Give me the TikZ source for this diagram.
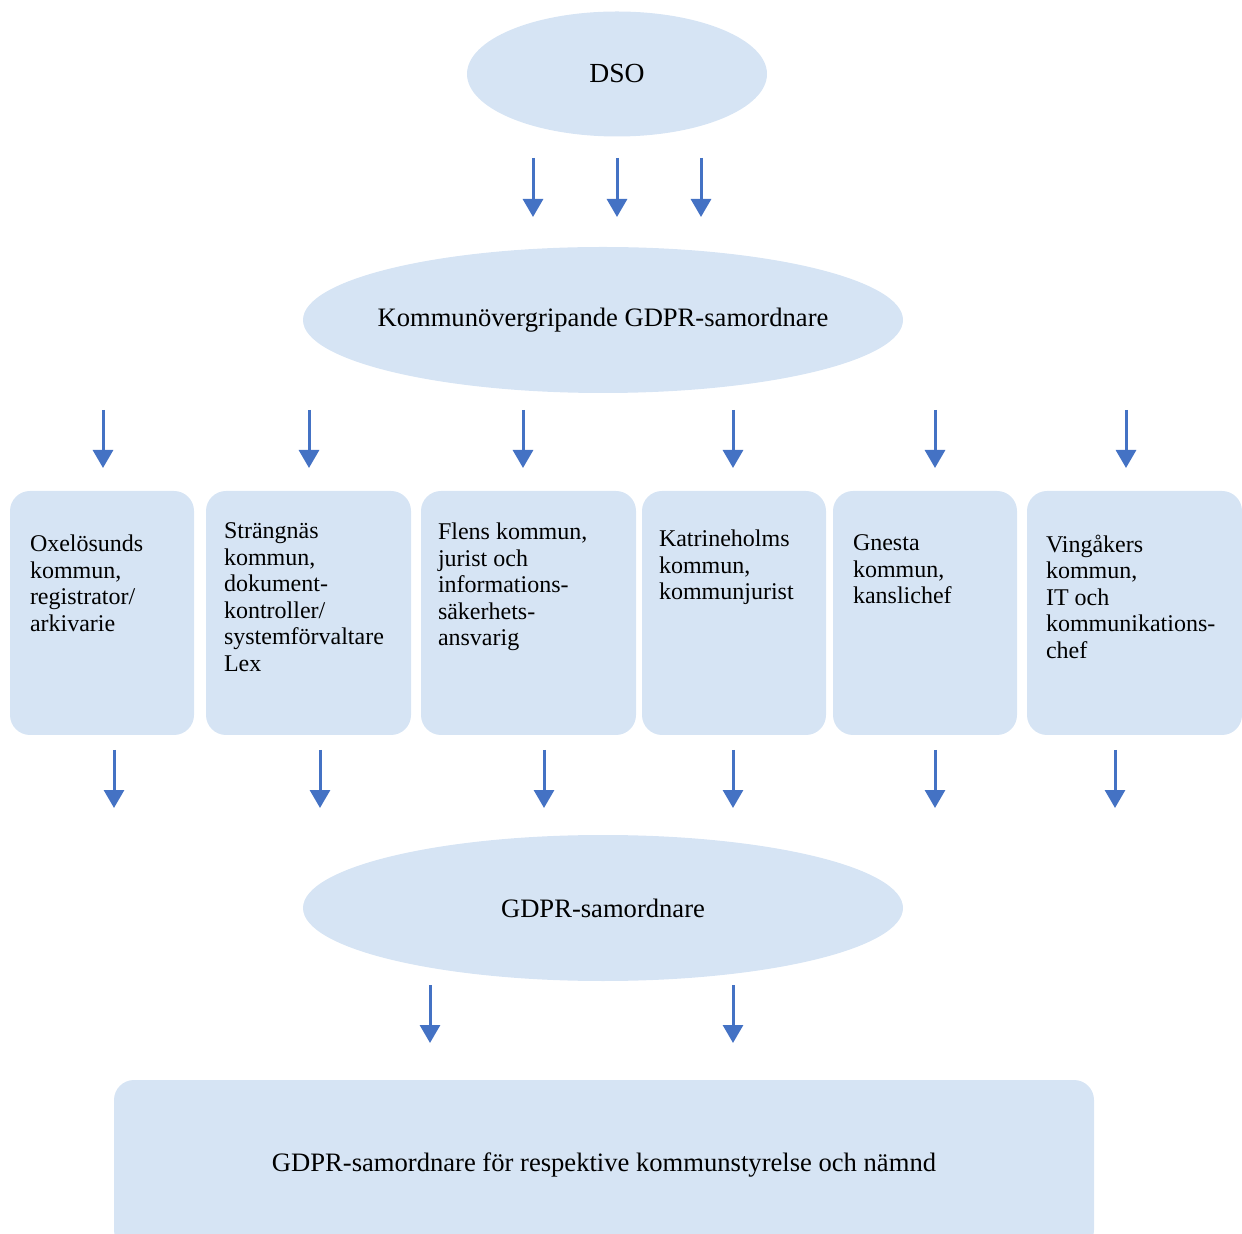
\documentclass[tikz,border=0pt]{standalone}
\usepackage{fontspec}
\setmainfont{Liberation Serif}
\usetikzlibrary{positioning,shapes.geometric,arrows.meta}
\definecolor{boxblue}{RGB}{214,228,244}
\definecolor{arrblue}{RGB}{68,114,196}

\begin{document}
\begin{tikzpicture}
[x=0.5pt,y=-0.5pt,
 every node/.style={inner sep=0pt,outer sep=0pt,font=\fontsize{12}{13.25}\selectfont},
 org/.style={ellipse,fill=boxblue,font=\fontsize{13.3}{15}\selectfont},
 unit/.style={rectangle,rounded corners=10pt,fill=boxblue,minimum height=122pt},
 txt/.style={anchor=north west,align=left},
 arr/.style={draw=arrblue,line width=1.5pt,-{Triangle[width=10pt,length=9pt]}}]
\useasboundingbox (0,0) rectangle (1242,1234);

\node[org,minimum width=150pt,minimum height=62.5pt,font=\fontsize{13.8}{15}\selectfont] (dso) at (617,74) {DSO};
\node[org,minimum width=300pt,minimum height=73pt,inner xsep=-20pt] (kov) at (603,320) {Kommunövergripande GDPR-samordnare};
\node[org,minimum width=300pt,minimum height=73pt]   (sam) [on grid,below=294pt of kov] {GDPR-samordnare};
\node[unit,minimum width=490pt,minimum height=85pt,font=\fontsize{13.3}{15}\selectfont] (resp) [on grid,below=128.5pt of sam,xshift=0.5pt]
  {GDPR-samordnare för respektive kommunstyrelse och nämnd};

% one box per kommun
\node[unit,minimum width=92pt]    (u1) at (102,613)    {};
\node[unit,minimum width=102.5pt] (u2) at (308.5,613)  {};
\node[unit,minimum width=107.5pt] (u3) at (528.5,613)  {};
\node[unit,minimum width=92pt]    (u4) at (734,613)    {};
\node[unit,minimum width=92pt]    (u5) at (925,613)    {};
\node[unit,minimum width=107.5pt] (u6) at (1134.5,613) {};

\node[txt] (t1) at (30,535)   {Oxelösunds\\kommun,\\registrator/\\arkivarie};
\node[txt] (t2) at (224,523)  {Strängnäs\\kommun,\\dokument-\\kontroller/\\systemförvaltare\\Lex};
\node[txt] (t3) at (438,523)  {Flens kommun,\\jurist och\\informations-\\säkerhets-\\ansvarig};
\node[txt] (t4) at (659,530)  {Katrineholms\\kommun,\\kommunjurist};
\node[txt] (t5) at (853,535)  {Gnesta\\kommun,\\kanslichef};
\node[txt] (t6) at (1046,535) {Vingåkers\\kommun,\\IT och\\kommunikations-\\chef};

% arrows between the levels
\foreach \x [count=\i] in {533,617,701} {
  \coordinate (a\i) at (\x,158); \coordinate (b\i) at (\x,217);
  \draw[arr] (a\i) -- (b\i);
}
\foreach \x [count=\i] in {103,309,523,733,935,1126} {
  \coordinate (c\i) at (\x,410); \coordinate (d\i) at (\x,468);
  \draw[arr] (c\i) -- (d\i);
}
\foreach \x [count=\i] in {114,320,544,733,935,1115} {
  \coordinate (e\i) at (\x,750); \coordinate (f\i) at (\x,808);
  \draw[arr] (e\i) -- (f\i);
}
\foreach \x [count=\i] in {430,733} {
  \coordinate (g\i) at (\x,985); \coordinate (h\i) at (\x,1043);
  \draw[arr] (g\i) -- (h\i);
}
\end{tikzpicture}
\end{document}
